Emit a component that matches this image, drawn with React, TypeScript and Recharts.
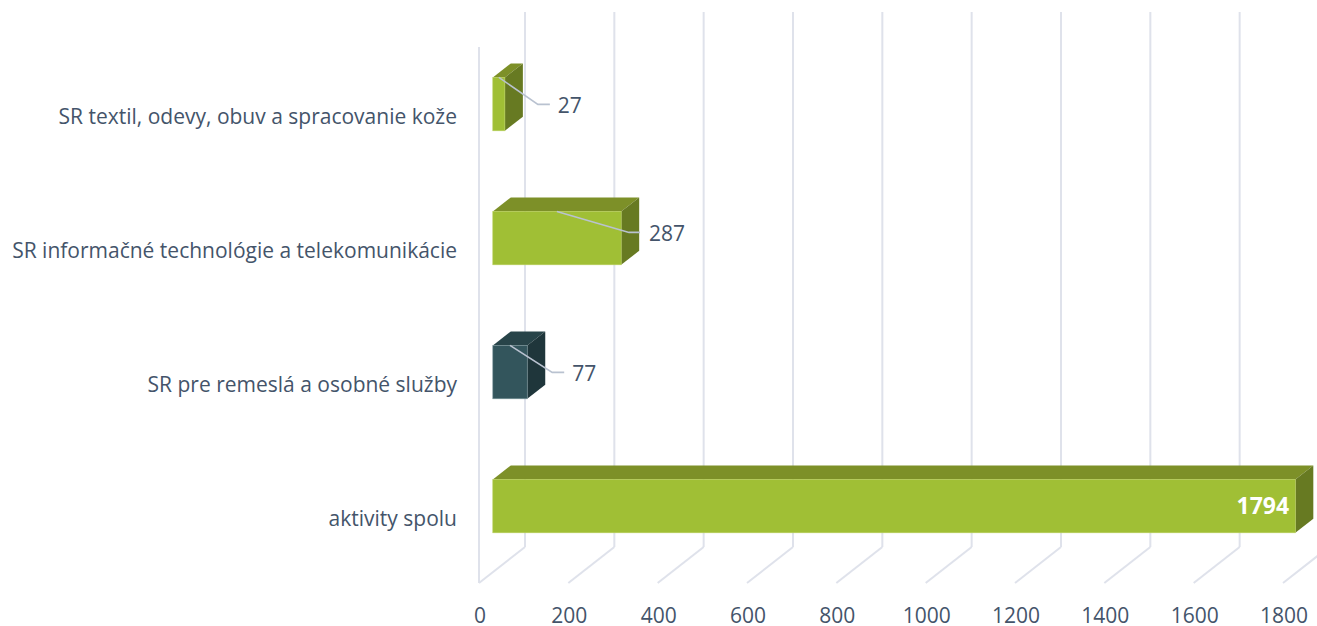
import React from "react";
import { BarChart, Bar, XAxis, YAxis, CartesianGrid, LabelList } from "recharts";

const categories = [
  "SR textil, odevy, obuv a spracovanie kože",
  "SR informačné technológie a telekomunikácie",
  "SR pre remeslá a osobné služby",
  "aktivity spolu",
];
const values = [27, 287, 77, 1794];
const xTicks = [0, 200, 400, 600, 800, 1000, 1200, 1400, 1600, 1800];
const data = categories.map((name, i) => ({ name, value: values[i] }));

const FONT = "'Open Sans', sans-serif";
const TEXT = "#44546a";
const GRID = "#dfe2eb";
const LEADER = "#b9c2d0";
const GREEN = { front: "#a0bf35", top: "#7d9028", side: "#677a22", edge: "#b9d05f" };
const TEAL = { front: "#33555c", top: "#284449", side: "#1f363b", edge: "#7d979c" };
const palette = [GREEN, GREEN, TEAL, GREEN];

// 3D projection offsets, in pixels
const BAR_DX = 13.8;
const BAR_DY = -9.6;
const DEPTH_X = 18;
const DEPTH_Y = -14;
const WALL_X = 46;
const WALL_Y = -36;

const leaderElbow = [
  { dx: 33, dy: 27, run: 12, gap: 8 },
  { dx: 8, dy: 21, run: 11, gap: 9 },
  { dx: 25, dy: 27, run: 12, gap: 8 },
];

function GridLine(props: any) {
  const { x1, y1, y2, index } = props;
  const top = Math.min(y1, y2);
  const bottom = Math.max(y1, y2);
  return (
    <g key={`wall-${x1}-${index}`}>
      {x1 < 480 && <line x1={x1} x2={x1} y1={top} y2={bottom} stroke={GRID} strokeWidth={2} />}
      <line x1={x1 + WALL_X} x2={x1 + WALL_X} y1={top + WALL_Y + 1} y2={bottom + WALL_Y} stroke={GRID} strokeWidth={2} />
      <line x1={x1} x2={x1 + WALL_X} y1={bottom} y2={bottom + WALL_Y} stroke={GRID} strokeWidth={2} />
    </g>
  );
}

function Bar3D(props: any) {
  const { x, y, width, height, index } = props;
  const c = palette[index];
  const l = x + BAR_DX;
  const t = y + BAR_DY;
  const w = width * 1.0015;
  const r = l + w;
  const b = t + height;
  return (
    <g>
      <polygon
        points={`${l},${t} ${l + DEPTH_X},${t + DEPTH_Y} ${r + DEPTH_X},${t + DEPTH_Y} ${r},${t}`}
        fill={c.top}
      />
      <polygon
        points={`${r},${t} ${r + DEPTH_X},${t + DEPTH_Y} ${r + DEPTH_X},${b + DEPTH_Y} ${r},${b}`}
        fill={c.side}
      />
      <rect x={l} y={t} width={w} height={height} fill={c.front} stroke={c.edge} strokeWidth={0.6} />
    </g>
  );
}

function ValueLabel(props: any) {
  const { x, y, width, height, value, index } = props;
  const l = x + BAR_DX;
  const t = y + BAR_DY;
  const r = l + width;
  const elbow = leaderElbow[index];
  if (!elbow) {
    return (
      <text x={r - 5} y={t + height / 2} dy={8} textAnchor="end" fontFamily={FONT} fontSize={23} fontWeight={700} fill="#ffffff">
        {value}
      </text>
    );
  }
  const ex = r + elbow.dx;
  const ey = t + elbow.dy;
  return (
    <g>
      <polyline
        points={`${l + width / 2},${t} ${ex},${ey} ${ex + elbow.run},${ey}`}
        fill="none"
        stroke={LEADER}
        strokeWidth={1.6}
      />
      <text x={ex + elbow.run + elbow.gap} y={ey} dy={9} fontFamily={FONT} fontSize={21} fill={TEXT}>
        {value}
      </text>
    </g>
  );
}

function CategoryTick(props: any) {
  const { x, y, payload } = props;
  return (
    <text x={x} y={y} dy={10} textAnchor="end" fontFamily={FONT} fontSize={21} fill={TEXT}>
      {payload.value}
    </text>
  );
}

function ValueTick(props: any) {
  const { x, y, payload } = props;
  return (
    <text x={x + 1} y={y} dy={34} textAnchor="middle" fontFamily={FONT} fontSize={21} fill={TEXT}>
      {payload.value}
    </text>
  );
}

export default function App() {
  return (
    <div style={{ position: "absolute", left: 0, top: 0, width: 1317, height: 626, overflow: "hidden", background: "#fff" }}>
      <BarChart
        width={1317}
        height={626}
        data={data}
        layout="vertical"
        margin={{ top: 47, right: 34, bottom: 0, left: 0 }}
      >
        <CartesianGrid horizontal={false} vertical={GridLine} />
        <XAxis
          type="number"
          domain={[0, 1800]}
          ticks={xTicks}
          axisLine={false}
          tickLine={false}
          tick={ValueTick}
          height={43}
          interval={0}
          tickMargin={0}
        />
        <YAxis
          type="category"
          dataKey="name"
          width={479}
          axisLine={false}
          tickLine={false}
          tick={CategoryTick}
          tickMargin={16}
          interval={0}
        />
        <Bar dataKey="value" barSize={53.4} isAnimationActive={false} shape={Bar3D}>
          <LabelList dataKey="value" content={ValueLabel} />
        </Bar>
      </BarChart>
    </div>
  );
}
